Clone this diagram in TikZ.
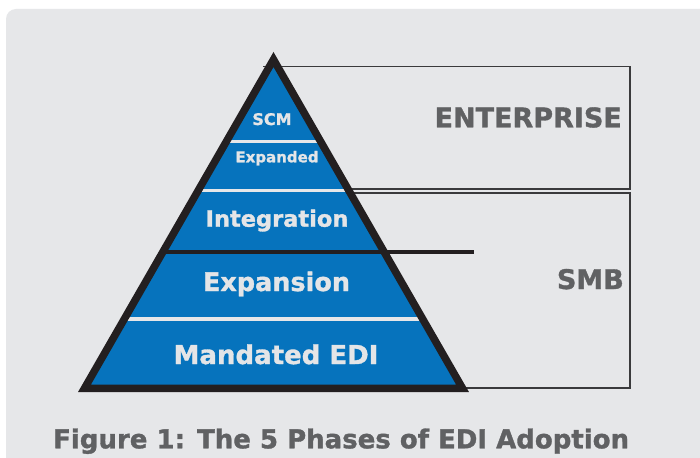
\documentclass[tikz,border=0pt]{standalone}
\usepackage{fontspec}
\setmainfont{DejaVu Sans}
\newfontfamily\heavy{DejaVu Sans Bold}[FakeBold=1.3]
\definecolor{bgc}{HTML}{E6E7E9}
\definecolor{blu}{HTML}{0673BD}
\definecolor{blk}{HTML}{231F20}
\definecolor{txtg}{HTML}{606163}
\definecolor{lbl}{HTML}{E4E5E7}
\definecolor{boxc}{HTML}{3A3A3C}
\tikzset{
  lbl/.style={inner sep=0pt, anchor=base, text=lbl},
  side/.style={inner sep=0pt, anchor=base east, text=txtg, font=\heavy\fontsize{27}{30}\selectfont},
  boxline/.style={draw=boxc, line width=1.2pt},
  sepw/.style={draw=bgc, line width=3.6pt},
}
\begin{document}
\begin{tikzpicture}[x=1pt,y=-1pt]
\useasboundingbox (0,0) rectangle (700,457);
\fill[white] (0,0) rectangle (700,457);
\fill[bgc, rounded corners=10pt] (6,9) rectangle (730,490);
% side boxes
\draw[boxline] (263,66.7) -- (630,66.7) -- (630,189) -- (340,189);
\draw[boxline] (340,193) -- (630,193) -- (630,388) -- (440,388);
% pyramid
\coordinate (apex) at (273.5,59.5);
\coordinate (bl) at (84.5,388.25);
\coordinate (br) at (462.5,388.25);
\fill[blu] (apex) -- (bl) -- (br) -- cycle;
\begin{scope}
  \clip (apex) -- (bl) -- (br) -- cycle;
  \draw[sepw] (0,141.5) -- (700,141.5);
  \draw[sepw] (0,190.5) -- (700,190.5);
  \draw[sepw] (0,319) -- (700,319);
\end{scope}
\coordinate (divL) at (160,252);
\coordinate (divR) at (474,252);
\draw[blk, line width=4.3pt] (divL) -- (divR);
\draw[blk, line width=7.5pt, line join=miter] (apex) -- (bl) -- (br) -- cycle;
% labels
\node[lbl, font=\heavy\fontsize{16}{18}\selectfont] (scm) at (272,125) {SCM};
\node[lbl, font=\heavy\fontsize{15}{18}\selectfont] (exd) at (277,162.3) {Expanded};
\node[lbl, font=\heavy\fontsize{22.5}{26}\selectfont] (int) at (277,226.7) {Integration};
\node[lbl, font=\heavy\fontsize{25.5}{30}\selectfont] (exp) at (276.5,291) {Expansion};
\node[lbl, font=\heavy\fontsize{26}{30}\selectfont] (man) at (276,364) {Mandated EDI};
\node[side] (ent) at (622,127.3) {ENTERPRISE};
\node[side] (smb) at (624,289) {SMB};
\node[inner sep=0pt, anchor=base west, text=txtg, font=\heavy\fontsize{26}{30}\selectfont] (cap) at (53,448.3) {Figure 1: The 5 Phases of EDI Adoption};
\end{tikzpicture}
\end{document}
